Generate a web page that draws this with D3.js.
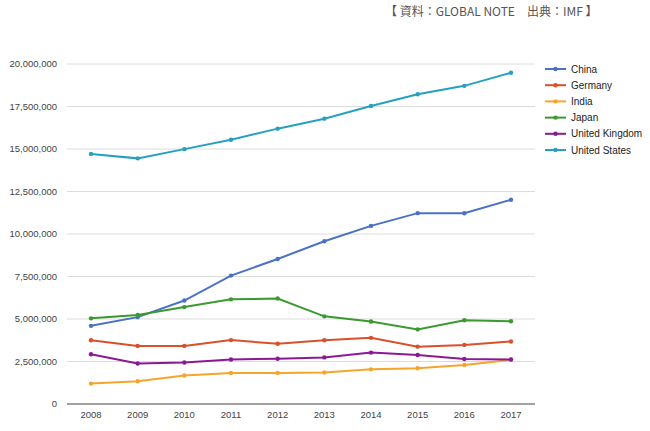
<!DOCTYPE html>
<html><head><meta charset="utf-8">
<script src="https://cdn.jsdelivr.net/npm/d3@7"></script>
<style>body{margin:0;background:#fff;}svg{display:block;font-family:Arial,"Liberation Sans",sans-serif;}</style>
</head><body><svg id="c" width="650" height="431"></svg>
<script>
const years = [2008,2009,2010,2011,2012,2013,2014,2015,2016,2017];
const seriesNames = ["China","Germany","India","Japan","United Kingdom","United States"];
const china   = [4598000,5110000,6087000,7552000,8532000,9570000,10476000,11226000,11218000,12015000];
const germany = [3752000,3418000,3417000,3758000,3544000,3753000,3890000,3375000,3477000,3677000];
const india   = [1199000,1342000,1676000,1823000,1828000,1857000,2039000,2104000,2290000,2601000];
const japan   = [5038000,5231000,5700000,6157000,6203000,5156000,4850000,4389000,4927000,4872000];
const uk      = [2923000,2385000,2441000,2619000,2662000,2740000,3023000,2885000,2651000,2622000];
const us      = [14712000,14449000,14992000,15543000,16197000,16785000,17527000,18225000,18715000,19485000];
const yTicks  = [0,2500000,5000000,7500000,10000000,12500000,15000000,17500000,20000000];
const colors  = ["#4a72c4","#d9502b","#f5a52c","#3a9a30","#8a1a94","#25a0c0"];
const sourceNote = "【 資料：GLOBAL NOTE　出典：IMF 】";

(function(){
const values = [china,germany,india,japan,uk,us];
const svg = d3.select("#c");
const pL=67, pR=535, pT=64, pB=404;
const x = d3.scalePoint().domain(years).range([91,511]);
const y = d3.scaleLinear().domain([0,20000000]).range([pB,pT]);
const fmt = d3.format(",");

svg.append("g").selectAll("line").data(yTicks.filter(d=>d>0)).join("line")
  .attr("x1",pL).attr("x2",pR).attr("y1",d=>y(d)).attr("y2",d=>y(d))
  .attr("stroke","#dcdcdc").attr("stroke-width",1);
svg.append("g").selectAll("text").data(yTicks).join("text")
  .attr("x",57).attr("y",d=>y(d)).attr("dy","0.35em").attr("text-anchor","end")
  .attr("font-size",9.5).attr("fill","#444").text(d=>fmt(d));
svg.append("line").attr("x1",pL).attr("x2",pR).attr("y1",pB).attr("y2",pB)
  .attr("stroke","#444").attr("stroke-width",1);
svg.append("g").selectAll("text").data(years).join("text")
  .attr("x",d=>x(d)).attr("y",418).attr("text-anchor","middle")
  .attr("font-size",9.5).attr("fill","#444").text(d=>d);

const line = d3.line().x((d,i)=>x(years[i])).y(d=>y(d));
values.forEach((vals,k)=>{
  const g = svg.append("g");
  g.append("path").attr("d",line(vals)).attr("fill","none").attr("stroke",colors[k]).attr("stroke-width",2);
  g.selectAll("circle").data(vals).join("circle")
    .attr("cx",(d,i)=>x(years[i])).attr("cy",d=>y(d)).attr("r",2.2).attr("fill",colors[k]);
});

const lg = svg.append("g");
seriesNames.forEach((n,i)=>{
  const yy = 69 + i*16.2;
  lg.append("line").attr("x1",545).attr("x2",566).attr("y1",yy).attr("y2",yy).attr("stroke",colors[i]).attr("stroke-width",2);
  lg.append("circle").attr("cx",555.5).attr("cy",yy).attr("r",2.2).attr("fill",colors[i]);
  lg.append("text").attr("x",571).attr("y",yy).attr("dy","0.35em").attr("font-size",10).attr("fill","#222").text(n);
});

svg.append("text").attr("x",385).attr("y",16).attr("font-size",12).attr("fill","#555")
  .attr("font-family","'Noto Sans CJK JP',sans-serif").text(sourceNote);
})();
</script></body></html>
